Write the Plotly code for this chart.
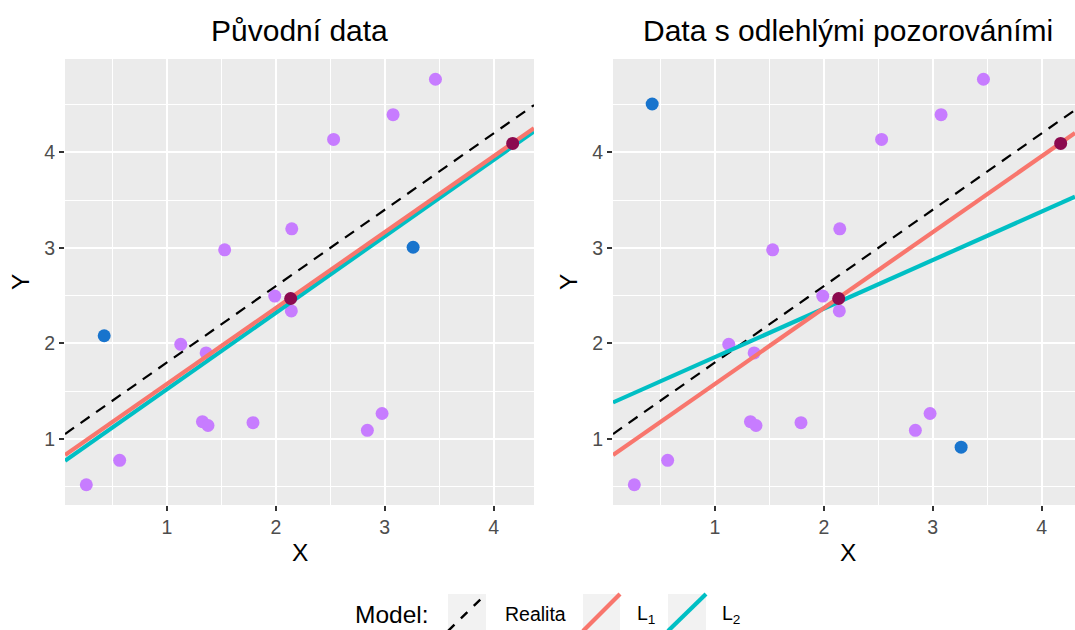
import plotly.graph_objects as go

# ---------------- data ----------------
# common (purple) points
pts_x = [0.26, 0.566, 1.127, 1.36, 1.326, 1.377, 1.53, 1.79, 1.99, 2.142, 2.146, 2.53, 2.84, 2.975, 3.076, 3.465]
pts_y = [0.52, 0.776, 1.99, 1.90, 1.18, 1.14, 2.98, 1.17, 2.496, 2.34, 3.20, 4.136, 1.09, 1.266, 4.395, 4.766]
# highlighted (blue) points: original positions and outlier positions
blue_x = [0.424, 3.26]
blue_y_orig = [2.08, 3.007]
blue_y_out = [4.507, 0.913]
# dark points
dark_x = [2.136, 4.174]
dark_y = [2.47, 4.094]
# lines: intercept, slope  (Realita, L1, L2) per panel
real_ab = (1.0, 0.8)
l1_ab = (0.78, 0.795)
l2_ab_orig = (0.719, 0.801)
l2_ab_out = (1.349, 0.508)

titles = ["Původní data", "Data s odlehlými pozorováními"]
tick_vals = [1, 2, 3, 4]

# ---------------- style ----------------
W, H = 1075, 630
FONT = "Liberation Sans"
PURPLE = "#C77CFF"
BLUE = "#1874CD"
DARK = "#8B0A4F"
RED = "#F8766D"
TEAL = "#00BFC4"
PANEL = "#EBEBEB"

def fx(p):
    return p / W

def fy(p):
    return 1 - p / H

# panel pixel geometry
L_LEFT, L_RIGHT = 65, 534
R_LEFT = 613
R_FULL_RIGHT = R_LEFT + (L_RIGHT - L_LEFT)
P_TOP, P_BOT = 59, 505

all_x = pts_x + blue_x + dark_x
all_y = pts_y + blue_y_orig + dark_y
xlo, xhi = min(all_x), max(all_x)
ylo, yhi = min(all_y), max(all_y)
xr = [xlo - 0.05 * (xhi - xlo), xhi + 0.05 * (xhi - xlo)]
yr = [ylo - 0.05 * (yhi - ylo), yhi + 0.05 * (yhi - ylo)]
# right panel is cut by the image edge
xr_right = [xr[0], xr[0] + (W - R_LEFT) / (R_FULL_RIGHT - R_LEFT) * (xr[1] - xr[0])]

fig = go.Figure()

def add_panel(xa, ya, blue_y, l2_ab, xrange):
    xs = [xrange[0], xrange[1]]
    fig.add_trace(go.Scatter(x=pts_x, y=pts_y, mode="markers", xaxis=xa, yaxis=ya,
                             marker=dict(color=PURPLE, size=13), showlegend=False, hoverinfo="skip"))
    fig.add_trace(go.Scatter(x=blue_x, y=blue_y, mode="markers", xaxis=xa, yaxis=ya,
                             marker=dict(color=BLUE, size=13), showlegend=False, hoverinfo="skip"))
    fig.add_trace(go.Scatter(x=xs, y=[real_ab[0] + real_ab[1] * v for v in xs], mode="lines",
                             xaxis=xa, yaxis=ya, line=dict(color="black", width=2.2, dash="11px,8px"),
                             showlegend=False, hoverinfo="skip"))
    fig.add_trace(go.Scatter(x=xs, y=[l2_ab[0] + l2_ab[1] * v for v in xs], mode="lines",
                             xaxis=xa, yaxis=ya, line=dict(color=TEAL, width=4.2),
                             showlegend=False, hoverinfo="skip"))
    fig.add_trace(go.Scatter(x=xs, y=[l1_ab[0] + l1_ab[1] * v for v in xs], mode="lines",
                             xaxis=xa, yaxis=ya, line=dict(color=RED, width=4.2),
                             showlegend=False, hoverinfo="skip"))
    fig.add_trace(go.Scatter(x=dark_x, y=dark_y, mode="markers", xaxis=xa, yaxis=ya,
                             marker=dict(color=DARK, size=13), showlegend=False, hoverinfo="skip"))

add_panel("x", "y", blue_y_orig, l2_ab_orig, xr)
add_panel("x2", "y2", blue_y_out, l2_ab_out, xr_right)

axis_common = dict(
    showgrid=True, gridcolor="white", gridwidth=2.2,
    zeroline=False, showline=False,
    ticks="outside", ticklen=5, tickwidth=2, tickcolor="#333333",
    tickvals=tick_vals, tickfont=dict(family=FONT, size=19.5, color="#4D4D4D"),
    minor=dict(showgrid=True, gridcolor="white", gridwidth=1.1, tick0=0.5, dtick=1, ticks=""),
    fixedrange=True,
)

fig.update_layout(
    width=W, height=H,
    margin=dict(l=0, r=0, t=0, b=0),
    paper_bgcolor="white", plot_bgcolor=PANEL,
    font=dict(family=FONT, color="black"),
    showlegend=False,
    xaxis=dict(domain=[fx(L_LEFT), fx(L_RIGHT)], range=xr, anchor="y", **axis_common),
    yaxis=dict(domain=[fy(P_BOT), fy(P_TOP)], range=yr, anchor="x", **axis_common),
    xaxis2=dict(domain=[fx(R_LEFT), 1.0], range=xr_right, anchor="y2", **axis_common),
    yaxis2=dict(domain=[fy(P_BOT), fy(P_TOP)], range=yr, anchor="x2", **axis_common),
)

ann = []
# panel titles
for title, cx in zip(titles, [(L_LEFT + L_RIGHT) / 2, (R_LEFT + R_FULL_RIGHT) / 2]):
    ann.append(dict(text=title, x=fx(cx), y=fy(30), xref="paper", yref="paper",
                    xanchor="center", yanchor="middle", showarrow=False,
                    font=dict(family=FONT, size=30, color="black")))
    ann.append(dict(text="X", x=fx(cx), y=fy(552), xref="paper", yref="paper",
                    xanchor="center", yanchor="middle", showarrow=False,
                    font=dict(family=FONT, size=24.5, color="black")))
for lx in [20, 568]:
    ann.append(dict(text="Y", x=fx(lx), y=fy((P_TOP + P_BOT) / 2), xref="paper", yref="paper",
                    xanchor="center", yanchor="middle", showarrow=False, textangle=-90,
                    font=dict(family=FONT, size=24.5, color="black")))

# legend (drawn manually)
shapes = []
legend_y0, legend_y1 = 594, 631
keys = [(448, 486, "black", 2.4, "dash", "Realita", 503),
        (583, 620, RED, 4.2, "solid", "L<sub>1</sub>", 635),
        (668, 706, TEAL, 4.2, "solid", "L<sub>2</sub>", 720)]
ann.append(dict(text="Model:", x=fx(353), y=fy(614), xref="paper", yref="paper",
                xanchor="left", yanchor="middle", showarrow=False,
                font=dict(family=FONT, size=24.5, color="black")))
for k0, k1, col, wd, dash, lab, tx in keys:
    shapes.append(dict(type="rect", xref="paper", yref="paper", x0=fx(k0), x1=fx(k1),
                       y0=fy(legend_y1), y1=fy(legend_y0), fillcolor="#F2F2F2", line=dict(width=0),
                       layer="below"))
    shapes.append(dict(type="line", xref="paper", yref="paper", x0=fx(k0), x1=fx(k1),
                       y0=fy(legend_y1), y1=fy(legend_y0),
                       line=dict(color=col, width=wd, dash=dash)))
    ann.append(dict(text=lab, x=fx(tx), y=fy(614), xref="paper", yref="paper",
                    xanchor="left", yanchor="middle", showarrow=False,
                    font=dict(family=FONT, size=19.5, color="black")))

fig.update_layout(annotations=ann, shapes=shapes)
fig.write_html("out.html", config={"displayModeBar": False},
               post_script="document.body.style.margin='0px';document.body.style.overflow='hidden';")
